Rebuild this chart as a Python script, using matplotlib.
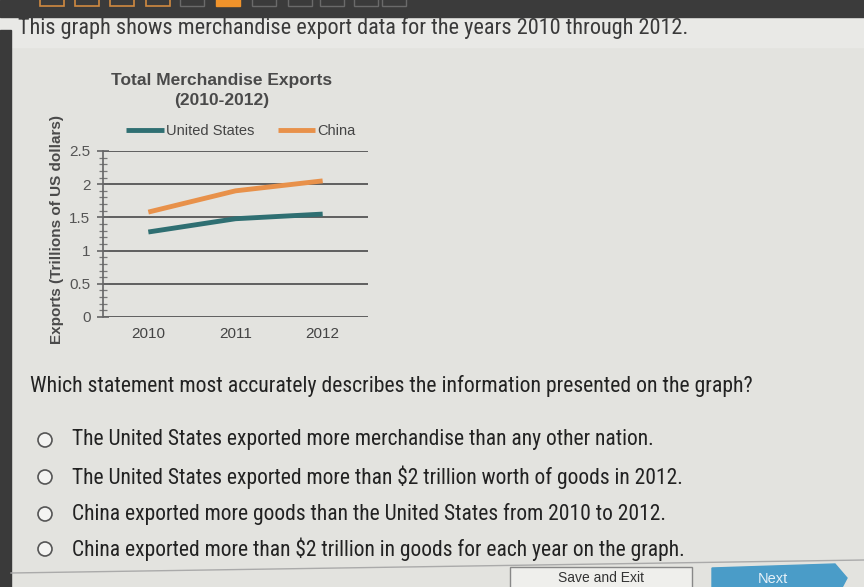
import matplotlib
matplotlib.use("Agg")
import matplotlib.pyplot as plt
from matplotlib.patches import Rectangle, Circle, Polygon
from matplotlib.ticker import MultipleLocator

years = ["2010", "2011", "2012"]
us_exports = [1.28, 1.48, 1.55]
china_exports = [1.58, 1.90, 2.05]
y_ticks = [0, 0.5, 1, 1.5, 2, 2.5]
y_tick_labels = ["0", "0.5", "1", "1.5", "2", "2.5"]

intro = "This graph shows merchandise export data for the years 2010 through 2012."
question = "Which statement most accurately describes the information presented on the graph?"
options = [
    "The United States exported more merchandise than any other nation.",
    "The United States exported more than $2 trillion worth of goods in 2012.",
    "China exported more goods than the United States from 2010 to 2012.",
    "China exported more than $2 trillion in goods for each year on the graph.",
]

FONT = ["Liberation Sans Narrow", "Roboto Condensed", "Liberation Sans", "DejaVu Sans"]
plt.rcParams["font.family"] = ["Liberation Sans", "DejaVu Sans"]

W, H = 864, 587
fig = plt.figure(figsize=(W / 100, H / 100), dpi=100)
fig.patch.set_facecolor("#e3e3df")

bg = fig.add_axes([0, 0, 1, 1])
bg.set_xlim(0, W)
bg.set_ylim(H, 0)
bg.axis("off")

# top dark bar and left dark edge
bg.add_patch(Rectangle((0, 0), W, 17, color="#3b3b3b"))
bg.add_patch(Rectangle((0, 17), W, 30, color="#e9e9e6", zorder=0))
bg.add_patch(Rectangle((0, 30), 11, H - 30, color="#3a3a3a"))
# tab buttons in top bar
for i, x in enumerate([40, 75, 110, 146, 180, 216, 252, 288, 320, 354, 382]):
    if i < 4:
        bg.add_patch(Rectangle((x, -8), 24, 14, fill=False, ec="#d08a40", lw=1.2))
    elif i == 5:
        bg.add_patch(Rectangle((x, -8), 24, 14, fc="#f0932b", ec="#f0932b"))
    else:
        bg.add_patch(Rectangle((x, -8), 24, 14, fill=False, ec="#6a6a6a", lw=1.0))

bg.text(18, 28, intro, fontsize=16, color="#3a3a3a", va="center", ha="left", family=FONT)

# chart title and axis label
bg.text(222, 80, "Total Merchandise Exports", fontsize=12.5, weight="bold",
        color="#4a4a4a", ha="center", va="center")
bg.text(222, 101, "(2010-2012)", fontsize=12.5, weight="bold",
        color="#4a4a4a", ha="center", va="center")
bg.text(57, 229, "Exports (Trillions of US dollars)", fontsize=11, weight="bold",
        color="#4a4a4a", ha="center", va="center", rotation=90)

ax = fig.add_axes([103 / W, 1 - 317 / H, 265 / W, 166 / H])
ax.set_facecolor("none")
x = list(range(len(years)))
l1, = ax.plot(x, us_exports, color="#2f6f72", lw=3.5, solid_capstyle="butt", label="United States")
l2, = ax.plot(x, china_exports, color="#e8914a", lw=3.5, solid_capstyle="butt", label="China")
ax.set_xlim(-0.52, 2.52)
ax.set_ylim(0, 2.5)
ax.set_yticks(y_ticks)
ax.set_yticklabels(y_tick_labels)
ax.yaxis.set_minor_locator(MultipleLocator(0.1))
ax.set_xticks(x)
ax.set_xticklabels(years)
ax.grid(axis="y", color="#555555", lw=1.3)
ax.set_axisbelow(True)
for s in ["top", "right", "bottom"]:
    ax.spines[s].set_visible(False)
ax.spines["left"].set_color("#666666")
ax.spines["left"].set_linewidth(1.2)
ax.tick_params(axis="y", which="major", direction="inout", length=8, width=1.2,
               color="#666666", labelsize=11, labelcolor="#555555", pad=5)
ax.tick_params(axis="y", which="minor", direction="inout", length=6, width=0.9, color="#777777")
ax.tick_params(axis="x", length=0, labelsize=11, labelcolor="#444444", pad=7)
leg = ax.legend(handles=[l1, l2], loc="lower center", bbox_to_anchor=(0.52, 1.0), ncol=2,
                frameon=False, fontsize=10.5, handlelength=2.6, handletextpad=0.1,
                columnspacing=1.6, labelcolor="#444444")

# question and options
bg.text(30, 386, question, fontsize=15.7, color="#222222", va="center", ha="left", family=FONT)
for i, (yy, opt) in enumerate(zip([440, 477, 514, 549], options)):
    bg.add_patch(Circle((45, yy), 7, fc="#f4f4f2", ec="#555555", lw=1.2))
    bg.text(72, yy, opt, fontsize=15.5, color="#222222", va="center", ha="left", family=FONT)

# bottom separator and buttons
bg.plot([11, W], [573, 560], color="#aaaaaa", lw=1)
bg.add_patch(Rectangle((510, 567), 182, 30, fc="#efefec", ec="#888888", lw=1))
bg.text(601, 578, "Save and Exit", fontsize=10, color="#333333", ha="center", va="center")
bg.add_patch(Polygon([(712, 568), (835, 564), (847, 578), (838, 595), (712, 595)],
                     closed=True, fc="#4a9cc8", ec="#4a9cc8"))
bg.text(773, 579, "Next", fontsize=10.5, color="#e6f1f8", ha="center", va="center")

fig.savefig("out.png", dpi=100, facecolor=fig.get_facecolor())
